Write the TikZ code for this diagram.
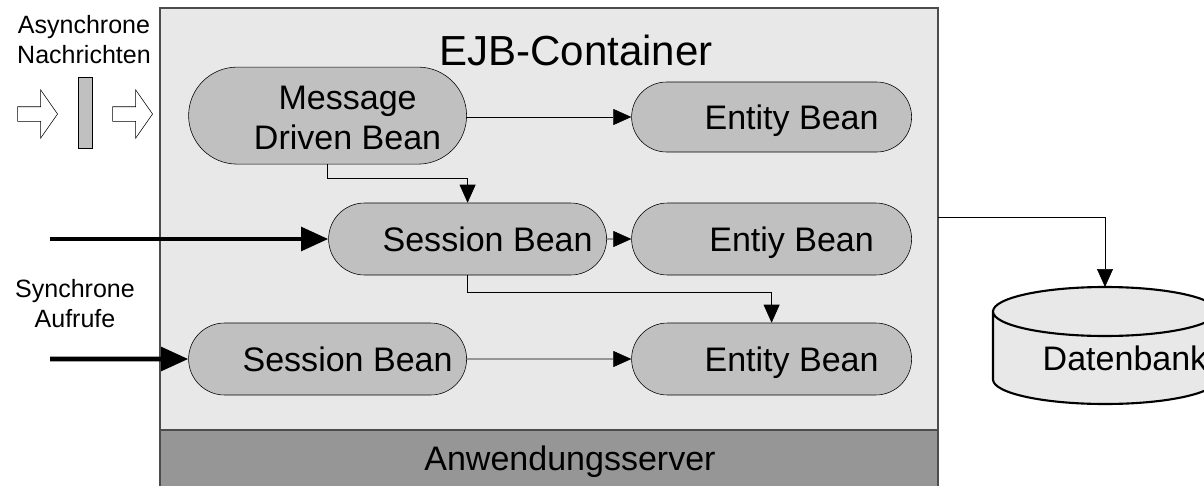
\documentclass[tikz,border=0pt]{standalone}
\usepackage{fontspec}
\setmainfont{Liberation Sans}
\usetikzlibrary{positioning,arrows.meta,shapes.misc,shapes.arrows}
\definecolor{containergray}{HTML}{E8E8E8}
\definecolor{beangray}{HTML}{C0C0C0}
\definecolor{servergray}{HTML}{969696}

\begin{document}
\begin{tikzpicture}[node distance=3cm,on grid,
  >={Triangle[length=0.45cm,width=0.4cm]},
  bean/.style={rounded rectangle,draw,thin,fill=beangray,minimum width=6.95cm,
    minimum height=1.8cm,inner sep=0pt,font=\fontsize{24.2}{28.5}\selectfont,
    text height=0.61cm,text depth=0pt,execute at begin node={\hspace*{1cm}}},
  hollow arrow/.style={single arrow,draw,thin,fill=white,inner sep=0pt,inner ysep=0.175cm,
    minimum height=1cm,single arrow head extend=0.425cm,single arrow tip angle=110},
  small label/.style={align=center,font=\fontsize{17.8}{21.3}\selectfont},
  call/.style={->,line width=3.5pt,>={Triangle[length=0.68cm,width=0.58cm]}}]
  \useasboundingbox (0,0) rectangle (30.1,-12.15);

  % container and server
  \node[draw=black!70,line width=1.2pt,fill=containergray,minimum width=19.45cm,
    minimum height=12.2cm] (ejbbox) at (13.725,-6.3) {};
  \draw[draw=black!70,line width=1pt,fill=servergray] (4,-10.75) rectangle (23.45,-12.4);
  \node[anchor=base,font=\fontsize{29.9}{34}\selectfont] (ejb) at (14.4,-1.625) {EJB-Container};
  \node[anchor=base,font=\fontsize{24.2}{28.5}\selectfont] (server) at (14.25,-11.76) {Anwendungsserver};

  % beans
  \node[bean] (sess1) at (11.69,-5.975) {Session Bean};
  \node[bean,minimum width=7cm] (ent2) [right=7.6cm of sess1] {Entiy Bean};
  \node[bean,minimum width=7cm,minimum height=1.75cm] (ent1) [above=3.05cm of ent2] {Entity Bean};
  \node[bean,minimum width=7cm] (ent3) [below=3cm of ent2] {Entity Bean};
  \node[bean] (sess2) [below left=3cm and 3.5cm of sess1] {Session Bean};
  \node[bean,minimum height=2.425cm,text height=1.2cm,text depth=0.465cm] (mdb)
    [above left=3.085cm and 3.5cm of sess1]
    {\begin{tabular}{@{}c@{}}Message\\Driven Bean\end{tabular}};

  \draw[->] (mdb.east |- ent1.west) -- (ent1.west);
  \draw[->] (mdb.south) -- ++(0,-0.35) -| (sess1.north);
  \draw[->] (sess1) -- (ent2);
  \draw[->] (sess1.south) -- ++(0,-0.425) -| (ent3.north);
  \draw[->] (sess2) -- (ent3);

  % asynchronous side
  \node[small label] (async) at (2.1,-1.0) {Asynchrone\\Nachrichten};
  \node[hollow arrow] (a1) at (0.875,-2.85) {};
  \node[draw,thin,fill=beangray,minimum width=0.35cm,minimum height=1.775cm,inner sep=0pt]
    (msg) at (2.125,-2.8125) {};
  \node[hollow arrow] (a2) at (3.25,-2.85) {};

  % synchronous calls
  \node[small label] (sync) at (1.875,-7.6) {Synchrone\\Aufrufe};
  \coordinate (in1) at (1.25,-5.975);
  \coordinate (in2) at (1.25,-8.975);
  \draw[call] (in1) -- (sess1);
  \draw[call] (in2) -- (sess2);

  % database
  \fill[containergray] (24.825,-7.7875) -- (24.825,-9.4875) arc (180:360:2.8 and 0.6125)
    -- (30.425,-7.7875) arc (0:180:2.8 and 0.6125) -- cycle;
  \draw[line width=1.5pt] (24.825,-7.7875) -- (24.825,-9.4875) arc (180:360:2.8 and 0.6125)
    -- (30.425,-7.7875) arc (0:180:2.8 and 0.6125) -- cycle
    (24.825,-7.7875) arc (180:360:2.8 and 0.6125);
  \node[anchor=base,font=\fontsize{24.2}{28.5}\selectfont] (db) at (28.125,-9.25) {Datenbank};
  \coordinate (cout) at (23.45,-5.425);
  \coordinate (dbtop) at (27.625,-7.175);
  \draw[->] (cout) -| (dbtop);
\end{tikzpicture}
\end{document}
